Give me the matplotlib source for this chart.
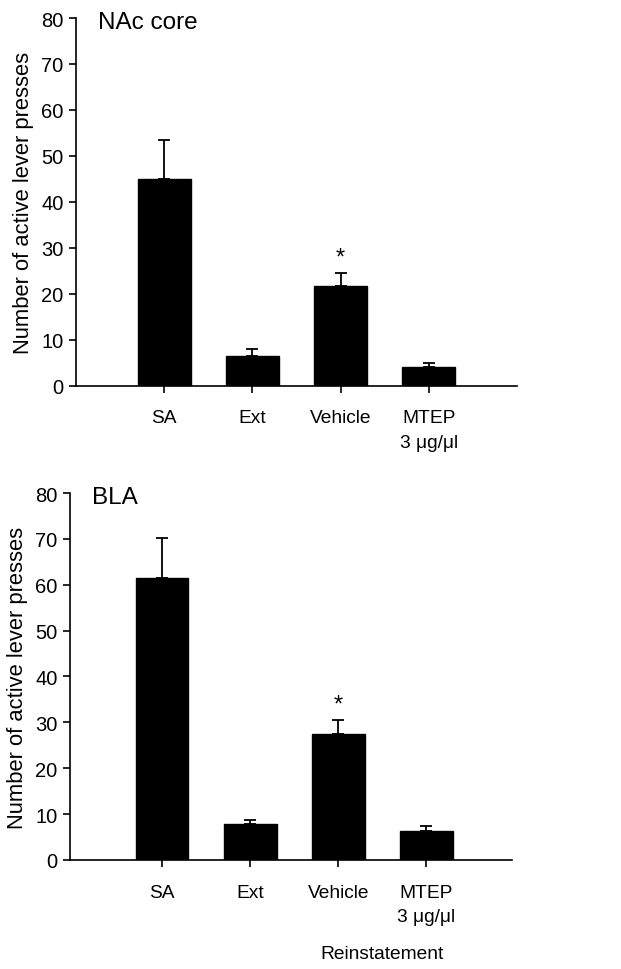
import matplotlib
matplotlib.use("Agg")
import matplotlib.pyplot as plt

plt.rcParams['font.family'] = ['Liberation Sans', 'DejaVu Sans']

categories = ["SA", "Ext", "Vehicle", "MTEP\n3 μg/μl"]
nac_means = [45.0, 6.4, 21.7, 4.0]
nac_sem = [8.4, 1.6, 2.9, 1.0]
bla_means = [61.4, 7.9, 27.4, 6.4]
bla_sem = [8.8, 0.9, 3.1, 0.9]
panel_titles = ["NAc core", "BLA"]
ylabel = "Number of active lever presses"
yticks = [0, 10, 20, 30, 40, 50, 60, 70, 80]

fig = plt.figure(figsize=(6.21, 9.70), dpi=100)
ax1 = fig.add_axes([0.1224, 0.6013, 0.7101, 0.3791])
ax2 = fig.add_axes([0.1127, 0.1124, 0.7113, 0.3783])

def draw(ax, means, sems, title, xlim):
    pos = list(range(1, len(categories) + 1))
    ax.bar(pos, means, width=0.6, color='black', edgecolor='black', zorder=2)
    ax.errorbar(pos, means, yerr=[[0]*len(means), sems], fmt='none',
                ecolor='black', elinewidth=1.3, capsize=4.5, capthick=1.3, zorder=1)
    ax.set_xlim(*xlim)
    ax.set_ylim(0, 80)
    ax.set_yticks(yticks)
    ax.set_xticks(pos)
    ax.set_xticklabels(categories, fontsize=13.8, linespacing=1.55)
    ax.tick_params(axis='y', labelsize=14.5, direction='out', length=5, width=1.2, pad=4)
    ax.tick_params(axis='x', direction='out', length=5, width=1.2, pad=12)
    for s in ['top', 'right']:
        ax.spines[s].set_visible(False)
    for s in ['left', 'bottom']:
        ax.spines[s].set_linewidth(1.2)
    ax.set_ylabel(ylabel, fontsize=15.8, labelpad=5)
    ax.text(0.05, 0.99, title, transform=ax.transAxes, fontsize=17.5,
            ha='left', va='center')
    # asterisk above Vehicle
    ax.text(3, means[2] + sems[2] + 3.4, "*", ha='center', va='center', fontsize=17)

draw(ax1, nac_means, nac_sem, panel_titles[0], (0.0, 5.0))
draw(ax2, bla_means, bla_sem, panel_titles[1], (-0.045, 4.97))

ax2.text(3.5, -0.255, "Reinstatement", transform=ax2.get_xaxis_transform(),
         ha='center', va='center', fontsize=13.8)

fig.savefig("out.png", dpi=100)
